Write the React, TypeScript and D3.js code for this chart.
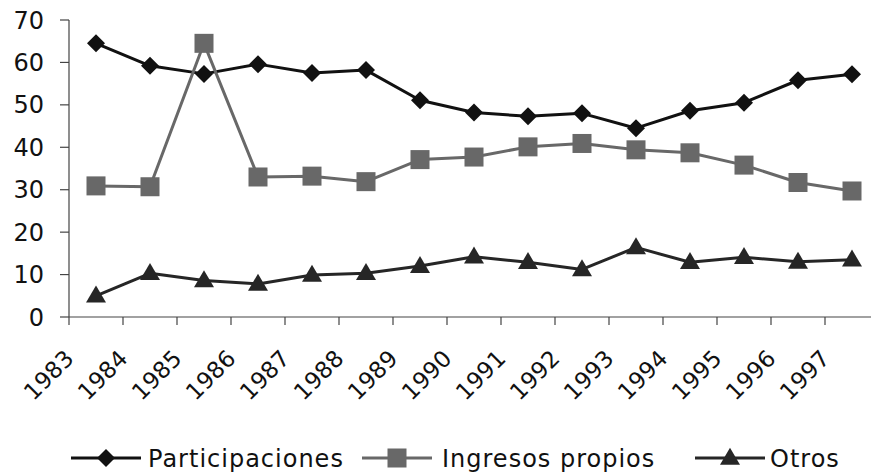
import React from "react";
import * as d3 from "d3";

const years = ["1983","1984","1985","1986","1987","1988","1989","1990","1991","1992","1993","1994","1995","1996","1997"];
const participaciones = [64.5,59.2,57.3,59.6,57.5,58.2,51.1,48.2,47.3,48.0,44.5,48.6,50.5,55.8,57.2];
const ingresosPropios = [30.9,30.7,64.5,33.0,33.2,31.9,37.1,37.7,40.1,40.9,39.4,38.7,35.8,31.7,29.7];
const otros = [5.0,10.3,8.6,7.8,9.9,10.3,12.0,14.2,12.9,11.2,16.4,12.9,14.1,13.0,13.5];
const yTicks = [0,10,20,30,40,50,60,70];

const seriesNames = ["Participaciones","Ingresos propios","Otros"];
const seriesColors = ["#111111","#686868","#262626"];
const seriesShapes = ["diamond","square","triangle"];

const W = 871, H = 473;
const FONT = "'DejaVu Sans', Verdana, sans-serif";

function Marker({ shape, x, y, color }: { shape: string; x: number; y: number; color: string }) {
  if (shape === "diamond") {
    const r = 9;
    return <path d={`M${x},${y - r}L${x + r},${y}L${x},${y + r}L${x - r},${y}Z`} fill={color} />;
  }
  if (shape === "square") {
    const s = 19;
    return <rect x={x - s / 2} y={y - s / 2} width={s} height={s} fill={color} />;
  }
  const w = 20, h = 17;
  return <path d={`M${x},${y - h * 0.6}L${x + w / 2},${y + h * 0.4}L${x - w / 2},${y + h * 0.4}Z`} fill={color} />;
}

export default function App() {
  const x = d3.scaleBand<string>().domain(years).range([69, 879]);
  const y = d3.scaleLinear().domain([0, 70]).range([317, 20]);
  const cx = (d: string) => (x(d) as number) + x.bandwidth() / 2;
  const data = [participaciones, ingresosPropios, otros];
  const line = d3.line<number>().x((_, i) => cx(years[i])).y((v) => y(v));

  const tickXs = years.map((yr) => x(yr) as number);
  const legendItems = [
    { lineStart: 71, textX: 148 },
    { lineStart: 362, textX: 442 },
    { lineStart: 695, textX: 770 },
  ];
  const legendY = 458;

  return (
    <svg width={W} height={H} style={{ position: "absolute", left: 0, top: 0, background: "#fff" }} fontFamily={FONT}>
      <rect x={0} y={0} width={W} height={H} fill="#fff" />
      {/* y axis */}
      <line x1={69} x2={69} y1={y(70)} y2={y(0)} stroke="#444" strokeWidth={1.2} />
      {yTicks.map((t) => (
        <g key={t}>
          <line x1={60} x2={69} y1={y(t)} y2={y(t)} stroke="#444" strokeWidth={1.2} />
          <text x={44} y={y(t)} dy="0.36em" textAnchor="end" fontSize={24} fill="#111">{t}</text>
        </g>
      ))}
      {/* x axis */}
      <line x1={69} x2={W} y1={y(0)} y2={y(0)} stroke="#444" strokeWidth={1.2} />
      {tickXs.map((tx, i) => (
        <g key={years[i]}>
          <line x1={tx} x2={tx} y1={y(0)} y2={y(0) + 8} stroke="#444" strokeWidth={1.2} />
          <text transform={`translate(${tx + 6},${360}) rotate(-45)`} textAnchor="end" fontSize={23} fill="#111">{years[i]}</text>
        </g>
      ))}
      {/* series */}
      {data.map((vals, si) => (
        <g key={seriesNames[si]}>
          <path d={line(vals) as string} fill="none" stroke={seriesColors[si]} strokeWidth={3} strokeLinejoin="round" />
          {vals.map((v, i) => (
            <Marker key={i} shape={seriesShapes[si]} x={cx(years[i])} y={y(v)} color={seriesColors[si]} />
          ))}
        </g>
      ))}
      {/* legend */}
      {legendItems.map((li, si) => (
        <g key={seriesNames[si]}>
          <line x1={li.lineStart} x2={li.lineStart + 70} y1={legendY} y2={legendY} stroke={seriesColors[si]} strokeWidth={3} />
          <Marker shape={seriesShapes[si]} x={li.lineStart + 35} y={legendY} color={seriesColors[si]} />
          <text x={li.textX} y={467} fontSize={24} letterSpacing={1} fill="#111">{seriesNames[si]}</text>
        </g>
      ))}
    </svg>
  );
}
